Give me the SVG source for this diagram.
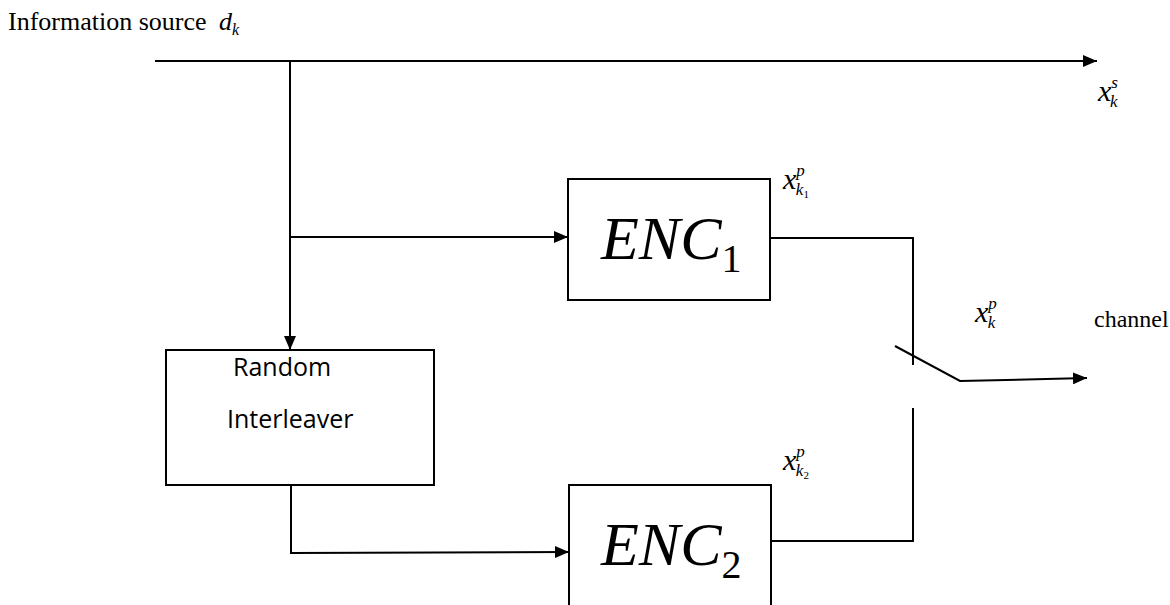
<svg xmlns="http://www.w3.org/2000/svg" width="1170" height="605" viewBox="0 0 1170 605">
  <defs>
    <marker id="arrow" viewBox="0 0 14 12" refX="14" refY="6" markerWidth="14" markerHeight="12" markerUnits="userSpaceOnUse" orient="auto">
      <path d="M0,0 L14,6 L0,12 Z" fill="#000"/>
    </marker>
    <style>
      .ln { stroke: #000; stroke-width: 2; fill: none; }
      .box { stroke: #000; stroke-width: 2; fill: #fff; }
      .serif { font-family: "Liberation Serif", "Times New Roman", serif; fill: #000; }
      .it { font-style: italic; }
      .sans { font-family: "Open Sans", "Noto Sans", "Liberation Sans", sans-serif; fill: #000; font-size: 25px; }
      .enc { font-family: "Liberation Serif", "Times New Roman", serif; font-style: italic; font-size: 62px; }
      .var { font-size: 30px; }
      .sup { font-size: 17px; }
    </style>
  </defs>

  <!-- title -->
  <text class="serif" x="8" y="30" font-size="26">Information source <tspan class="it" dx="6">d</tspan><tspan class="it" font-size="16" dy="5">k</tspan></text>

  <g id="connectors">
    <!-- systematic stream -->
    <line class="ln" x1="155" y1="61" x2="1097" y2="61" marker-end="url(#arrow)"/>
    <!-- down to interleaver -->
    <line class="ln" x1="290" y1="61" x2="290" y2="350" marker-end="url(#arrow)"/>
    <!-- branch to ENC1 -->
    <line class="ln" x1="290" y1="237" x2="568" y2="237" marker-end="url(#arrow)"/>
    <!-- interleaver to ENC2 -->
    <polyline class="ln" points="291,485 291,553 569,552" marker-end="url(#arrow)"/>
    <!-- ENC1 output to switch -->
    <polyline class="ln" points="770,238 913,238 913,365"/>
    <!-- ENC2 output to switch -->
    <polyline class="ln" points="771,541 913,541 913,408"/>
    <!-- switch arm and channel output -->
    <polyline class="ln" points="895,346 960,381 1087,378" marker-end="url(#arrow)"/>
  </g>

  <g id="interleaver">
    <rect class="box" x="166" y="350" width="268" height="135"/>
    <text class="sans" x="233" y="376">Random</text>
    <text class="sans" x="227" y="428">Interleaver</text>
  </g>

  <g id="enc1">
    <rect class="box" x="568" y="179" width="202" height="121"/>
    <text class="enc" x="601" y="259">ENC<tspan font-style="normal" font-size="40" dy="13">1</tspan></text>
  </g>

  <g id="enc2">
    <rect class="box" x="569" y="485" width="202" height="130"/>
    <text class="enc" x="601" y="565">ENC<tspan font-style="normal" font-size="40" dy="13">2</tspan></text>
  </g>

  <g id="labels" class="serif it">
    <text class="var" x="1098" y="101">x<tspan class="sup" dy="-13">s</tspan><tspan class="sup" dy="19" dx="-8">k</tspan></text>
    <text class="var" x="783" y="189">x<tspan class="sup" dy="-13">p</tspan><tspan class="sup" dy="19" dx="-9">k</tspan><tspan font-size="11" dy="3" font-style="normal">1</tspan></text>
    <text class="var" x="975" y="322">x<tspan class="sup" dy="-13">p</tspan><tspan class="sup" dy="19" dx="-9">k</tspan></text>
    <text class="var" x="783" y="470">x<tspan class="sup" dy="-13">p</tspan><tspan class="sup" dy="19" dx="-9">k</tspan><tspan font-size="11" dy="3" font-style="normal">2</tspan></text>
  </g>
  <text class="serif" x="1094" y="327" font-size="24">channel</text>
</svg>
